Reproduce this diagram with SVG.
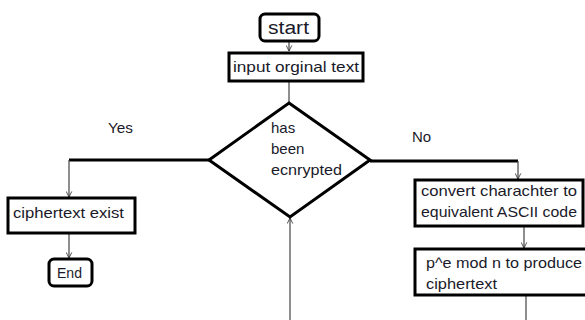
<svg xmlns="http://www.w3.org/2000/svg" width="585" height="320" viewBox="0 0 585 320">
<defs>
<marker id="arr" viewBox="0 0 10 10" refX="9" refY="5" markerWidth="7" markerHeight="7" orient="auto" markerUnits="userSpaceOnUse">
<path d="M1,1 L9,5 L1,9" fill="none" stroke="#333" stroke-width="1.2"/>
</marker>
<style>
.box{fill:#fff;stroke:#000;stroke-width:3}
.t{font-family:"Liberation Sans",Arial,sans-serif;font-size:15px;fill:#1a1a2a}
.thin{fill:none;stroke:#444;stroke-width:1.2}
.thick{fill:none;stroke:#000;stroke-width:3}
</style>
</defs>
<rect width="585" height="320" fill="#fff"/>
<g id="connectors">
<line class="thin" x1="289" y1="42" x2="289" y2="51" marker-end="url(#arr)"/>
<line class="thin" x1="289" y1="81" x2="289" y2="103"/>
<polyline class="thick" points="209,160 69,160"/>
<line class="thin" x1="69" y1="160" x2="69" y2="197" marker-end="url(#arr)"/>
<line class="thin" x1="69" y1="233" x2="69" y2="258" marker-end="url(#arr)"/>
<polyline class="thick" points="370,161 518,161"/>
<line class="thin" x1="518" y1="161" x2="518" y2="179" marker-end="url(#arr)"/>
<line class="thin" x1="524" y1="226" x2="524" y2="248" marker-end="url(#arr)"/>
<line class="thin" x1="526" y1="295" x2="526" y2="320"/>
<line class="thin" x1="290" y1="320" x2="290" y2="218" marker-end="url(#arr)"/>
<text class="t" x="108" y="133" textLength="25" lengthAdjust="spacingAndGlyphs">Yes</text>
<text class="t" x="412" y="142">No</text>
</g>
<g id="start">
<rect class="box" x="260" y="14" width="59" height="27" rx="5"/>
<text class="t" x="268" y="34" style="font-size:18px" textLength="41" lengthAdjust="spacingAndGlyphs">start</text>
</g>
<g id="input">
<rect class="box" x="229" y="53" width="134" height="28"/>
<text class="t" x="233" y="72" textLength="126" lengthAdjust="spacingAndGlyphs">input orginal text</text>
</g>
<g id="decision">
<polygon class="box" points="289,103 370,160 290,217 209,160"/>
<text class="t" x="271" y="133">has</text>
<text class="t" x="271" y="154">been</text>
<text class="t" x="271" y="175" textLength="71" lengthAdjust="spacingAndGlyphs">ecnrypted</text>
</g>
<g id="cipherexist">
<rect class="box" x="8" y="198" width="127" height="35"/>
<text class="t" x="13" y="218" textLength="111" lengthAdjust="spacingAndGlyphs">ciphertext exist</text>
</g>
<g id="end">
<rect class="box" x="49" y="259" width="43" height="27" rx="5"/>
<text class="t" x="57" y="278" textLength="25" lengthAdjust="spacingAndGlyphs">End</text>
</g>
<g id="convert">
<rect class="box" x="415" y="180" width="168" height="46"/>
<text class="t" x="421" y="196" textLength="156" lengthAdjust="spacingAndGlyphs">convert charachter to</text>
<text class="t" x="421" y="217" textLength="156" lengthAdjust="spacingAndGlyphs">equivalent ASCII code</text>
</g>
<g id="modexp">
<rect class="box" x="415" y="249" width="172" height="46"/>
<text class="t" x="426" y="268" textLength="156" lengthAdjust="spacingAndGlyphs">p^e mod n to produce</text>
<text class="t" x="426" y="289" textLength="71" lengthAdjust="spacingAndGlyphs">ciphertext</text>
</g>
</svg>
